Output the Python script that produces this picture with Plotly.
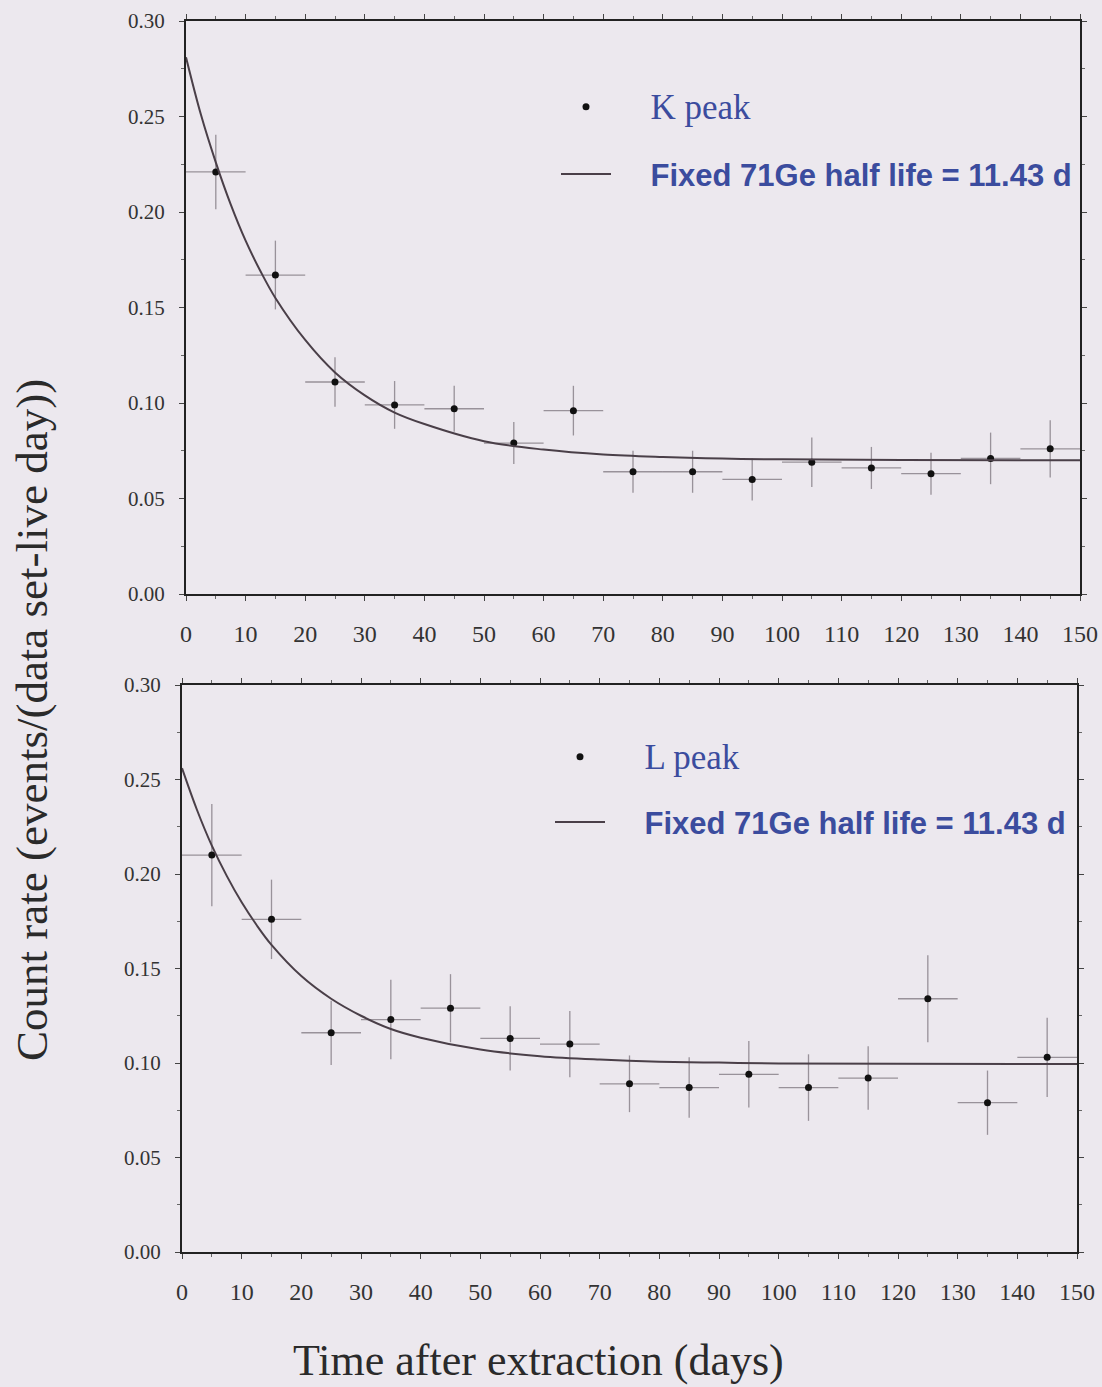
import plotly.graph_objects as go

# ---------------- data ----------------
days = [5, 15, 25, 35, 45, 55, 65, 75, 85, 95, 105, 115, 125, 135, 145]
day_halfwidth = [5] * 15

k_rate = [0.221, 0.167, 0.111, 0.099, 0.097, 0.079, 0.096, 0.064, 0.064,
          0.060, 0.069, 0.066, 0.063, 0.071, 0.076]
k_err = [0.0195, 0.018, 0.013, 0.0125, 0.012, 0.011, 0.013, 0.011, 0.011,
         0.011, 0.013, 0.011, 0.011, 0.0135, 0.015]

l_rate = [0.210, 0.176, 0.116, 0.123, 0.129, 0.113, 0.110, 0.089, 0.087,
          0.094, 0.087, 0.092, 0.134, 0.079, 0.103]
l_err = [0.027, 0.021, 0.017, 0.021, 0.018, 0.017, 0.0175, 0.015, 0.016,
         0.0176, 0.0176, 0.0168, 0.023, 0.017, 0.021]

fit_days = [0, 2.5, 5, 7.5, 10, 12.5, 15, 20, 25, 30, 35, 40, 50, 60, 70,
            80, 90, 100, 120, 150]
k_fit = [0.281, 0.251, 0.226, 0.204, 0.185, 0.169, 0.155, 0.133, 0.116,
         0.104, 0.095, 0.089, 0.080, 0.0756, 0.073, 0.0717, 0.0709, 0.0705,
         0.0701, 0.0700]
l_fit = [0.256, 0.234, 0.215, 0.199, 0.185, 0.173, 0.1625, 0.146, 0.134,
         0.125, 0.118, 0.1134, 0.1071, 0.1036, 0.1018, 0.1007, 0.1002,
         0.0998, 0.0996, 0.0995]

x_ticks = list(range(0, 151, 10))
y_ticks = [0.00, 0.05, 0.10, 0.15, 0.20, 0.25, 0.30]

# ---------------- style ----------------
W, H = 1102, 1387
BG = "#ECE8EE"
BLUE = "#3B4C9E"
ERR = "rgba(70,60,70,0.5)"
FIT = "#4A3F48"
SERIF = "Liberation Serif"
SANS = "Liberation Sans"
PAD = "&nbsp;" * 4

fig = go.Figure()

panels = [
    dict(rate=k_rate, err=k_err, fit=k_fit, name="K peak", xa="x", ya="y", lg="legend"),
    dict(rate=l_rate, err=l_err, fit=l_fit, name="L peak", xa="x2", ya="y2", lg="legend2"),
]

for p in panels:
    fig.add_trace(go.Scatter(
        x=days, y=p["rate"], mode="markers",
        name=PAD + '<span style="font-family:Liberation Serif;font-size:35px">'
             + p["name"] + "</span>",
        xaxis=p["xa"], yaxis=p["ya"], legend=p["lg"], legendgroup=p["name"] + "a",
        marker=dict(color="#111111", size=7),
        error_y=dict(type="data", array=p["err"], color=ERR, thickness=1.3, width=0),
        error_x=dict(type="data", array=day_halfwidth, color=ERR, thickness=1.3, width=0),
    ))
    fig.add_trace(go.Scatter(
        x=fit_days, y=p["fit"], mode="lines",
        name=PAD + "<b>Fixed 71Ge half life = 11.43 d</b>",
        xaxis=p["xa"], yaxis=p["ya"], legend=p["lg"], legendgroup=p["name"] + "b",
        line=dict(color=FIT, width=2, shape="spline", smoothing=1.0),
    ))

axis_common = dict(
    showline=True, linecolor="#222222", linewidth=2, mirror="allticks",
    ticks="outside", ticklen=5, tickwidth=1, tickcolor="#444444",
    showgrid=False, zeroline=False, automargin=False,
)
xfont = dict(family=SERIF, size=24, color="#333333")
yfont = dict(family=SERIF, size=21, color="#333333")

fig.update_layout(
    width=W, height=H,
    margin=dict(l=0, r=0, t=0, b=0),
    paper_bgcolor=BG, plot_bgcolor=BG,
    showlegend=True,
    xaxis=dict(domain=[186 / W, 1080 / W], anchor="y", range=[0, 150],
               tickvals=x_ticks, ticklabelstandoff=12, tickfont=xfont,
               minor=dict(dtick=5, ticks="outside", ticklen=3, tickcolor="#666666"),
               **axis_common),
    yaxis=dict(domain=[1 - 594 / H, 1 - 21 / H], anchor="x", range=[0, 0.30],
               tickvals=y_ticks, tickformat=".2f", ticklabelstandoff=10, tickfont=yfont,
               minor=dict(dtick=0.025, ticks="outside", ticklen=3, tickcolor="#666666"),
               **axis_common),
    xaxis2=dict(domain=[182 / W, 1077 / W], anchor="y2", range=[0, 150],
                tickvals=x_ticks, ticklabelstandoff=12, tickfont=xfont,
                minor=dict(dtick=5, ticks="outside", ticklen=3, tickcolor="#666666"),
                **axis_common),
    yaxis2=dict(domain=[1 - 1252 / H, 1 - 685 / H], anchor="x2", range=[0, 0.30],
                tickvals=y_ticks, tickformat=".2f", ticklabelstandoff=10, tickfont=yfont,
                minor=dict(dtick=0.025, ticks="outside", ticklen=3, tickcolor="#666666"),
                **axis_common),
    legend=dict(x=556 / W, y=1 - 80 / H, xanchor="left", yanchor="top",
                bgcolor="rgba(0,0,0,0)", tracegroupgap=24, itemwidth=50,
                font=dict(family=SANS, size=31, color=BLUE)),
    legend2=dict(x=550 / W, y=1 - 730 / H, xanchor="left", yanchor="top",
                 bgcolor="rgba(0,0,0,0)", tracegroupgap=22, itemwidth=50,
                 font=dict(family=SANS, size=31, color=BLUE)),
    annotations=[
        dict(text="Count rate (events/(data set-live day))", xref="paper", yref="paper",
             x=32 / W, y=1 - 720 / H, textangle=-90, showarrow=False,
             font=dict(family=SERIF, size=45, color="#2A2A2A"),
             xanchor="center", yanchor="middle"),
        dict(text="Time after extraction (days)", xref="paper", yref="paper",
             x=538 / W, y=1 - 1360 / H, showarrow=False,
             font=dict(family=SERIF, size=44, color="#2A2A2A"),
             xanchor="center", yanchor="middle"),
    ],
)

fig.write_html("out.html")
